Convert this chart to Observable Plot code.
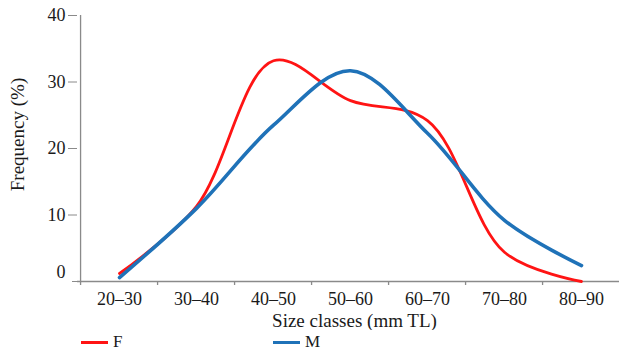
<!DOCTYPE html>
<html>
<head>
<meta charset="utf-8">
<script src="https://cdn.jsdelivr.net/npm/d3@7"></script>
<script src="https://cdn.jsdelivr.net/npm/@observablehq/plot@0.6"></script>
<style>
  html, body { margin: 0; padding: 0; background: #fff; }
  #chart { position: relative; width: 619px; height: 350px; font-family: "Liberation Serif", serif; color: #1a1a1a; }
  #legend { position: relative; height: 20px; font-size: 17px; line-height: 16px; }
  .item { position: absolute; top: 4px; display: flex; align-items: center; height: 16px; line-height: 16px; }
  .sw { display: inline-block; width: 27px; height: 3px; margin-right: 5px; }
</style>
</head>
<body>
<div id="chart"></div>
<script>
const sizeClasses = ["20–30", "30–40", "40–50", "50–60", "60–70", "70–80", "80–90"];
const femaleValues = [1.2, 11.3, 33.2, 27.2, 24.2, 4.4, 0];
const maleValues = [0.6, 11.0, 23.5, 31.7, 22.3, 9.2, 2.4];
const yTicks = [10, 20, 30, 40];
const seriesNames = ["F", "M"];
const seriesColors = ["#ff1414", "#1f72b8"];

const rows = [];
sizeClasses.forEach((c, i) => {
  rows.push({size: c, sex: "F", value: femaleValues[i]});
  rows.push({size: c, sex: "M", value: maleValues[i]});
});

const axisGray = "#8a8a8a";
const x0 = 77, x1 = 622;
const step = (x1 - x0) / sizeClasses.length;

const plot = Plot.plot({
  width: 619,
  height: 330,
  marginTop: 15,
  marginBottom: 49,
  marginLeft: 77,
  marginRight: 0,
  style: {fontFamily: "Liberation Serif, serif", fontSize: "18px", color: "#1a1a1a", background: "#fff"},
  x: {type: "point", domain: sizeClasses, range: [x0, x1], padding: 0.5},
  y: {domain: [0, 40], range: [281, 15]},
  color: {domain: seriesNames, range: seriesColors},
  marks: [
    Plot.ruleY([0], {stroke: axisGray, strokeWidth: 1.3}),
    Plot.ruleX(sizeClasses.slice(0, 1), {x: d => d, dx: -step / 2, stroke: axisGray, strokeWidth: 1.3, insetBottom: -4}),
    Plot.ruleX(sizeClasses.slice(1), {x: d => d, dx: -step / 2, stroke: axisGray, strokeWidth: 1.3, insetTop: 266, insetBottom: -4}),
    Plot.axisX({tickSize: 0, tickPadding: 11, fontSize: 18, label: null}),
    Plot.axisY({ticks: yTicks, tickSize: 9, tickPadding: 3, stroke: axisGray, fontSize: 18, label: null}),
    Plot.axisY({ticks: [0], tickSize: 5, tickFormat: () => "", stroke: axisGray, label: null}),
    Plot.axisY({ticks: [0], tickSize: 0, tickPadding: 12, dy: -9, fontSize: 18, label: null}),
    Plot.line(rows.filter(d => d.sex === "F"), {x: "size", y: "value", stroke: "sex", strokeWidth: 2.8, curve: "catmull-rom"}),
    Plot.line(rows.filter(d => d.sex === "M"), {x: "size", y: "value", stroke: "sex", strokeWidth: 3.6, curve: "catmull-rom"}),
    Plot.text(["Size classes (mm TL)"], {frameAnchor: "bottom", dy: 39, dx: 6, lineAnchor: "middle", fontSize: 19}),
    Plot.text(["Frequency (%)"], {frameAnchor: "left", textAnchor: "middle", rotate: -90, dx: -60, dy: -14, lineAnchor: "middle", fontSize: 19})
  ]
});
const chart = document.getElementById("chart");
chart.appendChild(plot);

const legend = document.createElement("div");
legend.id = "legend";
const lefts = [81, 273];
seriesNames.forEach((name, i) => {
  const item = document.createElement("div");
  item.className = "item";
  item.style.left = lefts[i] + "px";
  const sw = document.createElement("span");
  sw.className = "sw";
  sw.style.background = seriesColors[i];
  const t = document.createElement("span");
  t.textContent = name;
  item.appendChild(sw);
  item.appendChild(t);
  legend.appendChild(item);
});
chart.appendChild(legend);
</script>
</body>
</html>
